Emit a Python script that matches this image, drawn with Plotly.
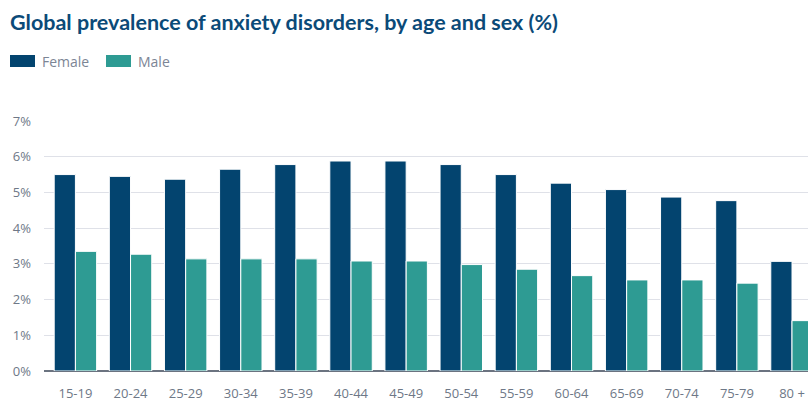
import plotly.graph_objects as go

categories = ["15-19", "20-24", "25-29", "30-34", "35-39", "40-44", "45-49",
              "50-54", "55-59", "60-64", "65-69", "70-74", "75-79", "80 +"]
female = [5.50, 5.45, 5.37, 5.65, 5.78, 5.88, 5.88, 5.78, 5.50, 5.26, 5.08, 4.87, 4.77, 3.07]
male = [3.35, 3.27, 3.14, 3.14, 3.14, 3.08, 3.08, 2.98, 2.85, 2.67, 2.55, 2.55, 2.46, 1.41]
y_ticks = [0, 1, 2, 3, 4, 5, 6, 7]
y_tick_labels = ["0%", "1%", "2%", "3%", "4%", "5%", "6%", "7%"]
series_names = ["Female", "Male"]
series_colors = ["#03446f", "#2e9b93"]

W, H = 808, 402
fig = go.Figure()
for name, vals, col in zip(series_names, [female, male], series_colors):
    fig.add_trace(go.Bar(
        x=categories, y=vals, name=name,
        marker=dict(color=col, line=dict(color="#ffffff", width=1)),
        showlegend=False,
    ))

# custom legend (swatches + labels)
legend_x = [10, 106]
for i, (name, col) in enumerate(zip(series_names, series_colors)):
    x0 = legend_x[i]
    fig.add_shape(type="rect", xref="paper", yref="paper",
                  x0=(x0 - 44) / 764, x1=(x0 + 25 - 44) / 764,
                  y0=(371 - 67) / 250, y1=(371 - 55) / 250,
                  fillcolor=col, line=dict(width=0))
    fig.add_annotation(text=name, xref="paper", yref="paper",
                       x=(x0 + 30 - 44) / 764, y=(371 - 61) / 250,
                       xanchor="left", yanchor="middle", showarrow=False,
                       font=dict(family="Open Sans", size=14, color="#7c8595"))

fig.update_layout(
    width=W, height=H,
    margin=dict(l=44, r=0, t=121, b=31),
    paper_bgcolor="#ffffff", plot_bgcolor="#ffffff",
    barmode="group", bargap=0.23, bargroupgap=0,
    title=dict(text="<b>Global prevalence of anxiety disorders, by age and sex (%)</b>",
               xref="container", yref="container",
               x=10 / W, y=1 - 22 / H, xanchor="left", yanchor="middle",
               font=dict(family="Lato", size=21.5, color="#0b4a78", weight=900)),
    font=dict(family="Open Sans", size=13, color="#6e7887"),
)
fig.update_xaxes(
    range=[-0.57, 13.29], showgrid=False, zeroline=False, automargin=False,
    showline=False, ticks="", ticklabelstandoff=13,
    tickfont=dict(family="Open Sans", size=13, color="#6e7887"),
)
fig.update_yaxes(
    range=[0, 7], tickmode="array", tickvals=y_ticks, ticktext=y_tick_labels,
    showgrid=True, gridcolor="#dfe1e8", gridwidth=1, automargin=False,
    zeroline=True, zerolinecolor="#6b7380", zerolinewidth=1.5,
    showline=False, ticks="", ticklabelstandoff=12,
    tickfont=dict(family="Open Sans", size=13, color="#6e7887"),
)

fig.write_html("out.html")
